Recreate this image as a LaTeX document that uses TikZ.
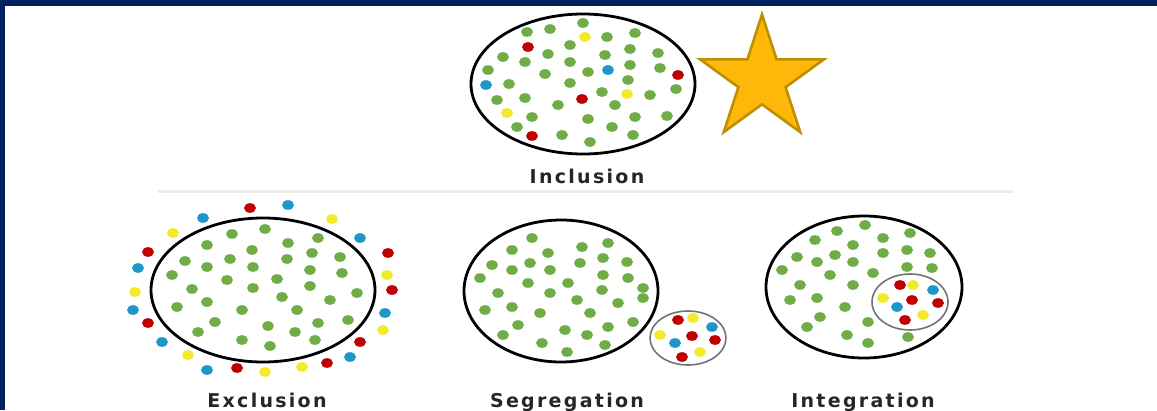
\documentclass[tikz,border=0pt]{standalone}
\usepackage{fontspec}
\newfontfamily\capfont[LetterSpace=12]{DejaVu Sans Bold}
\usepackage{tikz}
\usetikzlibrary{shapes.geometric}
\definecolor{navy}{HTML}{002060}
\definecolor{dotgreen}{HTML}{70AD47}
\definecolor{dotred}{HTML}{C00000}
\definecolor{dotblue}{HTML}{1E96C8}
\definecolor{dotyellow}{HTML}{F2EA2A}
\definecolor{stargold}{HTML}{FFB80A}
\definecolor{staredge}{HTML}{BF8F00}
\tikzset{
  ring/.style={draw=black, line width=2.8pt},
  subring/.style={draw=black!55, line width=1.6pt},
  caption/.style={font={\capfont\fontsize{19}{22}\selectfont}, text=black!85, anchor=base, inner sep=0pt},
  gspot/.style={fill=dotgreen},
  rspot/.style={fill=dotred},
  bspot/.style={fill=dotblue},
  yspot/.style={fill=dotyellow},
  seprule/.style={draw=black!8, line width=3pt}
}
\newcommand{\spots}[2]{\foreach \px/\py in {#2} \fill[#1] (\px,\py) ellipse [x radius=6, y radius=4.8];}

\begin{document}
\begin{tikzpicture}[x=1pt, y=-1pt]
  \useasboundingbox (0,0) rectangle (1157,410);
  \fill[white] (0,0) rectangle (1157,410);
  \fill[navy] (0,0) rectangle (1157,6);
  \fill[navy] (0,0) rectangle (5,410);

  % --- inclusion ---
  \spots{gspot}{583/23, 527/32, 550/29, 607/37, 635/33, 570/45, 503/57, 525/62, 548/54, 570/62, 605/55, 630/49, 658/53, 488/70, 545/74, 588/72, 630/65, 660/68, 509/84, 570/83, 628/80, 676/89, 602/92, 650/95, 497/100, 525/98, 558/105, 615/105, 532/117, 588/119, 635/117, 667/116, 517/127, 612/127, 562/135, 590/142, 633/135}
  \spots{rspot}{528/47, 678/75, 582/99, 532/136}
  \spots{bspot}{608/70, 486/85}
  \spots{yspot}{585/37, 627/94, 507/113}
  \draw[ring] (583,84) ellipse [x radius=112, y radius=70];
  \node (gold) [star, star points=5, star point ratio=2.618, minimum size=130pt, inner sep=0pt, fill=stargold, draw=staredge, line width=2.6pt] at (762,79.5) {};
  \node (inclusion) [caption] at (587,183) {Inclusion};

  \draw[seprule] (158,191) -- (1013,191);

  % --- exclusion ---
  \spots{gspot}{265/229, 232/234, 288/243, 318/238, 207/245, 252/250, 312/253, 340/257, 185/261, 230/259, 287/259, 207/267, 253/267, 310/270, 342/273, 172/275, 227/280, 277/279, 310/286, 192/289, 253/288, 282/297, 330/300, 357/293, 207/302, 177/307, 242/310, 297/310, 215/322, 318/323, 348/320, 268/326, 295/332, 198/332, 242/340, 315/340, 270/346}
  \spots{rspot}{250/208, 148/252, 388/253, 392/290, 148/323, 360/342, 327/363, 237/368}
  \spots{bspot}{288/205, 203/218, 360/238, 138/268, 133/310, 385/313, 162/342, 350/357, 207/370}
  \spots{yspot}{332/219, 173/233, 387/275, 135/292, 383/330, 188/355, 265/372, 302/367}
  \draw[ring] (263,290) ellipse [x radius=112, y radius=72];
  \node (exclusion) [caption] at (267,407) {Exclusion};

  % --- segregation ---
  \spots{gspot}{532/238, 512/250, 582/247, 608/243, 548/253, 492/265, 512/270, 530/263, 550/270, 580/263, 603/258, 627/262, 480/278, 528/283, 568/283, 603/275, 628/278, 498/293, 550/293, 602/290, 643/288, 643/298, 577/300, 618/303, 485/310, 512/307, 540/313, 590/313, 518/325, 565/330, 608/327, 633/322, 503/335, 587/335, 542/343, 567/352, 605/345}
  \draw[ring] (561,291) ellipse [x radius=97, y radius=71];
  \spots{rspot}{678/320, 692/336, 715/340, 682/357}
  \spots{bspot}{712/327, 675/343}
  \spots{yspot}{693/318, 660/335, 700/352}
  \draw[subring] (688,338) ellipse [x radius=38, y radius=27];
  \node (segregation) [caption] at (567,407) {Segregation};

  % --- integration ---
  \spots{gspot}{865/225, 837/231, 815/240, 883/238, 910/233, 853/245, 797/257, 817/262, 835/255, 853/262, 883/253, 907/250, 930/253, 782/270, 830/275, 873/273, 907/267, 932/268, 800/285, 853/285, 790/300, 817/298, 845/307, 820/317, 807/327, 868/322, 847/335, 868/343, 908/337}
  \spots{rspot}{900/285, 912/300, 938/303, 905/320}
  \spots{bspot}{933/290, 897/307}
  \spots{yspot}{913/285, 883/298, 923/315}
  \draw[ring] (864,287) ellipse [x radius=98, y radius=71];
  \draw[subring] (910,302) ellipse [x radius=38, y radius=28];
  \node (integration) [caption] at (863,407) {Integration};
\end{tikzpicture}
\end{document}
